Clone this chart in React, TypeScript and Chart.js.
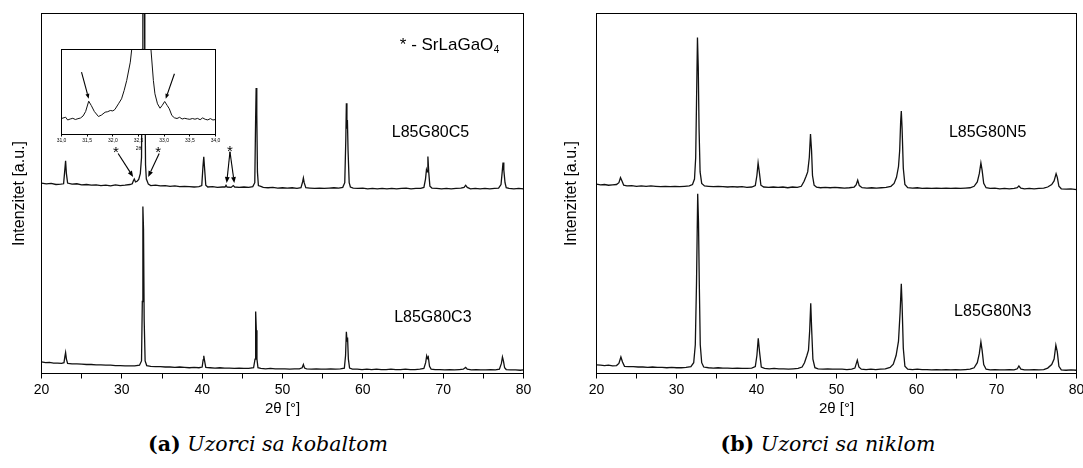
import React, { useEffect, useRef } from 'react';
import { Chart, registerables } from 'chart.js';

Chart.register(...registerables);

const FONT = '"Liberation Sans", Arial, Helvetica, sans-serif';
const LINE = '#111';

type Pt = [number, number];

// 2θ axis marks: labelled every 10°, minor marks every 5°
const angleTicks = [20, 25, 30, 35, 40, 45, 50, 55, 60, 65, 70, 75, 80];
const insetTicks = [31.0, 31.5, 32.0, 32.5, 33.0, 33.5, 34.0];

// L85G80C5 — [2θ (°), intensity (a.u.)], plotted with an upward offset
const sampleC5: Pt[] = [
  [20.0, 52.9], [20.6, 52.7], [21.2, 52.8], [21.8, 52.5], [22.4, 52.6], [22.75, 52.7], [22.9, 56.5], [23.0, 59.1],
  [23.1, 55.5], [23.25, 52.9], [23.8, 52.6], [24.4, 52.7], [25.0, 52.4], [25.6, 52.5], [26.2, 52.3], [26.8, 52.4],
  [27.4, 52.2], [28.0, 52.3], [28.6, 52.1], [29.2, 52.4], [29.8, 52.2], [30.4, 52.3], [31.0, 52.5], [31.3, 52.7],
  [31.45, 53.6], [31.55, 54.0], [31.7, 53.2], [31.9, 53.4], [32.1, 53.9], [32.3, 55.5], [32.45, 60], [32.55, 90],
  [32.62, 125], [32.78, 125], [32.86, 85], [32.95, 58], [33.05, 54.0], [33.15, 53.5], [33.3, 52.6], [33.6, 52.2],
  [34.2, 52.3], [34.8, 52.1], [35.4, 52.2], [36.0, 52.0], [36.6, 52.1], [37.2, 51.9], [37.8, 52.0], [38.4, 51.9],
  [39.0, 51.8], [39.6, 51.9], [39.95, 52.2], [40.1, 57.5], [40.2, 60.2], [40.3, 57.0], [40.45, 52.3], [40.7, 51.8],
  [41.3, 51.9], [41.9, 51.7], [42.5, 51.8], [42.85, 51.8], [42.97, 52.3], [43.1, 51.8], [43.6, 51.7], [43.87, 52.2],
  [44.05, 51.8], [44.6, 51.7], [45.2, 51.8], [45.8, 51.7], [46.3, 51.9], [46.55, 53], [46.65, 70], [46.72, 79.3],
  [46.8, 72], [46.88, 56], [47.0, 52.2], [47.3, 52.0], [47.6, 51.7], [48.2, 51.6], [48.8, 51.7], [49.4, 51.5],
  [50.0, 51.6], [50.6, 51.5], [51.2, 51.6], [51.8, 51.4], [52.3, 51.6], [52.5, 53.2], [52.6, 54.3], [52.7, 53.0],
  [52.9, 51.6], [53.4, 51.5], [54.0, 51.4], [54.6, 51.5], [55.2, 51.4], [55.8, 51.5], [56.4, 51.6], [57.0, 51.5],
  [57.5, 51.7], [57.75, 53], [57.88, 65], [57.95, 75.1], [58.02, 68], [58.08, 70.4], [58.16, 62], [58.3, 53],
  [58.45, 51.8], [58.8, 51.5], [59.4, 51.4], [60.0, 51.5], [60.6, 51.3], [61.2, 51.4], [61.8, 51.3], [62.4, 51.4],
  [63.0, 51.3], [63.6, 51.4], [64.2, 51.3], [64.8, 51.4], [65.4, 51.5], [66.0, 51.3], [66.6, 51.4], [67.2, 51.4],
  [67.6, 51.7], [67.8, 54], [67.92, 56.6], [68.0, 56.0], [68.1, 60.3], [68.2, 56], [68.35, 52], [68.6, 51.5],
  [69.2, 51.4], [69.8, 51.3], [70.4, 51.4], [71.0, 51.3], [71.6, 51.4], [72.2, 51.5], [72.6, 51.7], [72.8, 52.3],
  [73.0, 51.7], [73.4, 51.3], [74.0, 51.4], [74.6, 51.3], [75.2, 51.4], [75.8, 51.3], [76.4, 51.4], [76.9, 51.5],
  [77.2, 52.5], [77.35, 56], [77.45, 58.6], [77.55, 56.5], [77.7, 53], [77.85, 51.6], [78.2, 51.4], [78.8, 51.3],
  [79.4, 51.4], [80.0, 51.3],
];

// L85G80C3
const sampleC3: Pt[] = [
  [20.0, 3.2], [20.5, 3.0], [21.0, 3.1], [21.5, 2.9], [22.0, 2.9], [22.5, 2.8], [22.8, 3.0], [22.92, 4.8],
  [23.0, 5.8], [23.1, 4.0], [23.25, 2.8], [23.8, 2.7], [24.4, 2.7], [25.0, 2.6], [25.6, 2.5], [26.2, 2.5],
  [26.8, 2.4], [27.4, 2.4], [28.0, 2.3], [28.6, 2.3], [29.2, 2.2], [29.8, 2.2], [30.4, 2.1], [31.0, 2.1],
  [31.6, 2.1], [32.2, 2.3], [32.45, 3.5], [32.55, 20], [32.62, 46.4], [32.7, 40], [32.78, 15], [32.9, 3.5],
  [33.1, 2.2], [33.6, 2.0], [34.2, 1.9], [34.8, 1.9], [35.4, 1.8], [36.0, 1.8], [36.6, 1.7], [37.2, 1.8],
  [37.8, 1.7], [38.4, 1.6], [39.0, 1.7], [39.6, 1.6], [40.0, 1.8], [40.12, 3.8], [40.2, 4.9], [40.3, 3.5],
  [40.45, 1.7], [41.0, 1.6], [41.6, 1.5], [42.2, 1.6], [42.8, 1.5], [43.4, 1.5], [44.0, 1.4], [44.6, 1.5],
  [45.2, 1.4], [45.8, 1.4], [46.4, 1.6], [46.58, 4], [46.66, 17.2], [46.74, 12], [46.82, 4], [46.95, 1.6],
  [47.3, 1.4], [47.9, 1.3], [48.5, 1.4], [49.1, 1.3], [49.7, 1.3], [50.3, 1.3], [50.9, 1.2], [51.5, 1.3],
  [52.1, 1.3], [52.45, 1.6], [52.6, 2.5], [52.75, 1.5], [53.0, 1.3], [53.6, 1.2], [54.2, 1.3], [54.8, 1.2],
  [55.4, 1.2], [56.0, 1.3], [56.6, 1.2], [57.2, 1.3], [57.7, 1.5], [57.85, 5], [57.95, 11.6], [58.03, 9],
  [58.1, 10], [58.2, 4], [58.35, 1.5], [58.7, 1.2], [59.3, 1.2], [59.9, 1.1], [60.5, 1.2], [61.1, 1.1],
  [61.7, 1.2], [62.3, 1.1], [62.9, 1.1], [63.5, 1.2], [64.1, 1.1], [64.7, 1.1], [65.3, 1.2], [65.9, 1.1],
  [66.5, 1.1], [67.1, 1.2], [67.6, 1.4], [67.82, 3.0], [67.95, 4.9], [68.05, 4.2], [68.15, 4.6], [68.3, 2.0],
  [68.5, 1.2], [69.0, 1.1], [69.6, 1.1], [70.2, 1.0], [70.8, 1.1], [71.4, 1.0], [72.0, 1.1], [72.5, 1.2],
  [72.8, 1.7], [73.0, 1.2], [73.5, 1.0], [74.1, 1.1], [74.7, 1.0], [75.3, 1.0], [75.9, 1.1], [76.5, 1.0],
  [77.0, 1.2], [77.25, 2.8], [77.38, 4.6], [77.5, 3.5], [77.65, 1.6], [77.85, 1.1], [78.4, 1.0], [79.0, 1.0],
  [79.6, 0.9], [80.0, 1.0],
];

// L85G80N5, plotted with an upward offset
const sampleN5: Pt[] = [
  [20.0, 52.6], [20.5, 52.4], [21.0, 52.5], [21.5, 52.3], [22.0, 52.4], [22.5, 52.5], [22.8, 53.0], [23.0, 54.4],
  [23.2, 53.4], [23.4, 52.3], [23.8, 52.1], [24.4, 52.2], [25.0, 52.0], [25.6, 52.1], [26.2, 52.0], [26.8, 52.1],
  [27.4, 52.0], [28.0, 51.9], [28.6, 52.0], [29.2, 51.9], [29.8, 52.0], [30.4, 51.9], [31.0, 52.0], [31.6, 52.1],
  [32.0, 52.5], [32.25, 54], [32.4, 60], [32.5, 75], [32.62, 93.3], [32.72, 85], [32.82, 68], [32.95, 56],
  [33.15, 52.8], [33.5, 52.1], [34.0, 52.0], [34.6, 51.9], [35.2, 52.0], [35.8, 51.9], [36.4, 51.8], [37.0, 51.9],
  [37.6, 51.8], [38.2, 51.9], [38.8, 51.7], [39.4, 51.8], [39.85, 52.2], [40.05, 55], [40.2, 58.5], [40.35, 56],
  [40.55, 52.3], [40.9, 51.8], [41.5, 51.7], [42.1, 51.8], [42.7, 51.7], [43.3, 51.8], [43.9, 51.6], [44.5, 51.8],
  [45.1, 51.7], [45.6, 52.0], [45.95, 53.4], [46.2, 54.8], [46.4, 56.0], [46.6, 60], [46.75, 66.5], [46.88, 62],
  [47.0, 55], [47.2, 52.3], [47.5, 51.8], [48.0, 51.6], [48.6, 51.7], [49.2, 51.6], [49.8, 51.7], [50.4, 51.6],
  [51.0, 51.5], [51.6, 51.6], [52.2, 51.8], [52.45, 52.4], [52.65, 53.7], [52.85, 52.2], [53.2, 51.6], [53.8, 51.5],
  [54.4, 51.6], [55.0, 51.5], [55.6, 51.6], [56.2, 51.7], [56.8, 52.0], [57.2, 52.8], [57.5, 54.5], [57.75, 57.5],
  [57.9, 62], [58.02, 70], [58.1, 72.9], [58.2, 68], [58.35, 57], [58.55, 52.5], [58.9, 51.6], [59.5, 51.5],
  [60.1, 51.6], [60.7, 51.4], [61.3, 51.5], [61.9, 51.4], [62.5, 51.5], [63.1, 51.4], [63.7, 51.5], [64.3, 51.4],
  [64.9, 51.5], [65.5, 51.4], [66.1, 51.5], [66.7, 51.6], [67.2, 52.0], [67.6, 53.2], [67.85, 55.5], [68.05, 58.5],
  [68.2, 56.5], [68.4, 52.8], [68.7, 51.6], [69.2, 51.4], [69.8, 51.5], [70.4, 51.3], [71.0, 51.4], [71.6, 51.3],
  [72.2, 51.4], [72.6, 51.6], [72.8, 52.1], [73.05, 51.5], [73.5, 51.3], [74.1, 51.4], [74.7, 51.3], [75.3, 51.4],
  [75.9, 51.5], [76.4, 51.8], [76.9, 52.5], [77.2, 53.5], [77.45, 55.5], [77.6, 54.5], [77.8, 52.0], [78.1, 51.3],
  [78.7, 51.2], [79.3, 51.3], [80.0, 51.1],
];

// L85G80N3
const sampleN3: Pt[] = [
  [20.0, 2.4], [20.5, 2.3], [21.0, 2.2], [21.5, 2.3], [22.0, 2.1], [22.5, 2.2], [22.8, 2.8], [23.05, 4.6],
  [23.25, 3.2], [23.5, 2.0], [24.0, 1.9], [24.6, 1.9], [25.2, 1.8], [25.8, 1.8], [26.4, 1.7], [27.0, 1.8],
  [27.6, 1.7], [28.2, 1.7], [28.8, 1.6], [29.4, 1.7], [30.0, 1.6], [30.6, 1.6], [31.2, 1.7], [31.8, 1.9],
  [32.15, 3], [32.35, 8], [32.5, 25], [32.65, 49.9], [32.75, 42], [32.85, 25], [32.97, 8], [33.15, 3],
  [33.4, 1.8], [34.0, 1.6], [34.6, 1.5], [35.2, 1.6], [35.8, 1.5], [36.4, 1.5], [37.0, 1.4], [37.6, 1.5],
  [38.2, 1.4], [38.8, 1.4], [39.4, 1.5], [39.85, 1.9], [40.05, 5], [40.22, 9.8], [40.38, 6], [40.6, 1.8],
  [41.0, 1.4], [41.6, 1.3], [42.2, 1.4], [42.8, 1.3], [43.4, 1.3], [44.0, 1.2], [44.6, 1.3], [45.2, 1.4],
  [45.7, 1.8], [46.0, 3.0], [46.3, 5.0], [46.5, 6.5], [46.65, 12], [46.78, 19.5], [46.9, 12], [47.05, 4],
  [47.3, 1.6], [47.7, 1.3], [48.3, 1.2], [48.9, 1.3], [49.5, 1.2], [50.1, 1.2], [50.7, 1.2], [51.3, 1.1],
  [51.9, 1.2], [52.3, 1.5], [52.6, 3.7], [52.8, 1.8], [53.1, 1.2], [53.7, 1.1], [54.3, 1.2], [54.9, 1.1],
  [55.5, 1.2], [56.1, 1.3], [56.7, 1.7], [57.1, 2.6], [57.45, 5], [57.75, 9], [57.95, 17], [58.1, 24.9],
  [58.2, 19], [58.35, 7], [58.55, 2], [58.9, 1.2], [59.5, 1.1], [60.1, 1.2], [60.7, 1.1], [61.3, 1.1],
  [61.9, 1.0], [62.5, 1.1], [63.1, 1.0], [63.7, 1.1], [64.3, 1.0], [64.9, 1.1], [65.5, 1.0], [66.1, 1.1],
  [66.7, 1.2], [67.2, 1.6], [67.6, 3.0], [67.85, 5.5], [68.05, 8.8], [68.2, 6.5], [68.4, 2.5], [68.7, 1.2],
  [69.2, 1.0], [69.8, 1.1], [70.4, 1.0], [71.0, 1.0], [71.6, 1.1], [72.2, 1.0], [72.6, 1.3], [72.8, 2.1],
  [73.05, 1.2], [73.5, 1.0], [74.1, 1.0], [74.7, 1.1], [75.3, 1.0], [75.9, 1.1], [76.4, 1.5], [76.9, 2.5],
  [77.2, 4.0], [77.42, 7.9], [77.6, 6.0], [77.8, 2.0], [78.1, 1.0], [78.7, 0.9], [79.3, 1.0], [80.0, 0.9],
];

// L85G80C5 around the strongest reflection (31–34°)
const insetC5: Pt[] = [
  [31.0, 16.0], [31.05, 16.8], [31.08, 17.3], [31.12, 14.5], [31.17, 15.5], [31.22, 16.2], [31.27, 15.0], [31.32, 15.8],
  [31.37, 16.5], [31.42, 18.5], [31.47, 23], [31.53, 33.3], [31.58, 29], [31.64, 23], [31.72, 18], [31.78, 19.5],
  [31.85, 22.3], [31.9, 22.8], [31.95, 24], [32.0, 23.6], [32.04, 25], [32.11, 30.7], [32.17, 35.7], [32.22, 44],
  [32.27, 54], [32.34, 72.3], [32.4, 100], [32.72, 100], [32.79, 54], [32.82, 40.7], [32.87, 30.7], [32.92, 26.3],
  [32.96, 29], [33.01, 33], [33.06, 29], [33.1, 25.7], [33.15, 19], [33.2, 16.7], [33.25, 16.0], [33.3, 17.2],
  [33.35, 15.5], [33.4, 16.2], [33.45, 15.6], [33.5, 15.2], [33.55, 16.0], [33.6, 15.3], [33.65, 16.1], [33.7, 14.8],
  [33.75, 16.6], [33.8, 15.2], [33.85, 14.6], [33.9, 15.9], [33.95, 14.5], [34.0, 15.0],
];

type Note =
  | { kind: 'text'; x: number; y: number; text: string; size: number; sub?: string }
  | { kind: 'star'; x: number; y: number }
  | { kind: 'arrow'; from: Pt; to: Pt; head: number };

const notesCobalt: Note[] = [
  { kind: 'text', x: 64.6, y: 91.2, text: '* - SrLaGaO', sub: '4', size: 17 },
  { kind: 'text', x: 63.6, y: 66.9, text: 'L85G80C5', size: 16 },
  { kind: 'text', x: 63.9, y: 15.6, text: 'L85G80C3', size: 16 },
  { kind: 'star', x: 29.26, y: 62.5 },
  { kind: 'star', x: 34.53, y: 62.5 },
  { kind: 'star', x: 43.46, y: 62.9 },
  { kind: 'arrow', from: [29.54, 61.1], to: [31.41, 54.6], head: 6 },
  { kind: 'arrow', from: [34.65, 61.1], to: [33.28, 54.6], head: 6 },
  { kind: 'arrow', from: [43.46, 61.6], to: [43.05, 52.9], head: 6 },
  { kind: 'arrow', from: [43.46, 61.6], to: [44.0, 52.9], head: 6 },
];

const notesNickel: Note[] = [
  { kind: 'text', x: 64.05, y: 66.9, text: 'L85G80N5', size: 16 },
  { kind: 'text', x: 64.7, y: 17.3, text: 'L85G80N3', size: 16 },
];

const notesInset: Note[] = [
  { kind: 'arrow', from: [31.39, 62.3], to: [31.53, 35.7], head: 5 },
  { kind: 'arrow', from: [33.2, 60.7], to: [33.03, 35.7], head: 5 },
];

const toPoints = (pts: Pt[]) => pts.map(([x, y]) => ({ x, y }));

// Closed box around the plotting area
const framePlugin = {
  id: 'frame',
  afterDatasetsDraw(chart: any) {
    const { ctx, chartArea: a } = chart;
    ctx.save();
    ctx.strokeStyle = '#000';
    ctx.lineWidth = 1;
    ctx.strokeRect(a.left, a.top, a.right - a.left, a.bottom - a.top);
    ctx.restore();
  },
};

// Opaque background inside the plotting area
const paperPlugin = {
  id: 'paper',
  beforeDatasetsDraw(chart: any) {
    const { ctx, chartArea: a } = chart;
    ctx.save();
    ctx.fillStyle = '#fff';
    ctx.fillRect(a.left, a.top, a.right - a.left, a.bottom - a.top);
    ctx.restore();
  },
};

// Sample names, phase marks and arrows, placed in data coordinates
const makeNotes = (items: Note[]) => ({
  id: 'notes',
  afterDatasetsDraw(chart: any) {
    const { ctx, scales } = chart;
    const px = (v: number) => scales.x.getPixelForValue(v);
    const py = (v: number) => scales.y.getPixelForValue(v);
    ctx.save();
    ctx.fillStyle = '#000';
    ctx.strokeStyle = '#000';
    for (const n of items) {
      if (n.kind === 'text') {
        ctx.font = `${n.size}px ${FONT}`;
        ctx.textAlign = 'left';
        ctx.textBaseline = 'middle';
        const x = px(n.x);
        const y = py(n.y);
        ctx.fillText(n.text, x, y);
        if (n.sub) {
          const w = ctx.measureText(n.text).width;
          ctx.font = `${Math.round(n.size * 0.6)}px ${FONT}`;
          ctx.fillText(n.sub, x + w + 0.5, y + n.size * 0.3);
        }
      } else if (n.kind === 'star') {
        ctx.font = `15px ${FONT}`;
        ctx.textAlign = 'center';
        ctx.textBaseline = 'alphabetic';
        ctx.fillText('*', px(n.x), py(n.y) + 8.5);
      } else {
        const x1 = px(n.from[0]);
        const y1 = py(n.from[1]);
        const x2 = px(n.to[0]);
        const y2 = py(n.to[1]);
        const ang = Math.atan2(y2 - y1, x2 - x1);
        const h = n.head;
        const bx = x2 - h * Math.cos(ang);
        const by = y2 - h * Math.sin(ang);
        ctx.lineWidth = 1.1;
        ctx.beginPath();
        ctx.moveTo(x1, y1);
        ctx.lineTo(bx, by);
        ctx.stroke();
        const hw = h * 0.4;
        ctx.beginPath();
        ctx.moveTo(x2, y2);
        ctx.lineTo(bx + hw * Math.sin(ang), by - hw * Math.cos(ang));
        ctx.lineTo(bx - hw * Math.sin(ang), by + hw * Math.cos(ang));
        ctx.closePath();
        ctx.fill();
      }
    }
    ctx.restore();
  },
});

function panelConfig(upper: Pt[], lower: Pt[], yAxisWidth: number, yTitlePad: number, rightPad: number, notes: Note[]) {
  return {
    type: 'line' as const,
    data: {
      datasets: [upper, lower].map((d) => ({
        data: toPoints(d),
        borderColor: LINE,
        borderWidth: 1.3,
        pointRadius: 0,
        tension: 0,
        fill: false,
      })),
    },
    options: {
      animation: false as const,
      responsive: false,
      events: [],
      layout: { padding: { top: 13.5, right: rightPad, bottom: 0, left: 0 } },
      plugins: { legend: { display: false }, tooltip: { enabled: false } },
      scales: {
        x: {
          type: 'linear' as const,
          min: 20,
          max: 80,
          afterBuildTicks: (s: any) => {
            s.ticks = angleTicks.map((v) => ({ value: v }));
          },
          afterFit: (s: any) => {
            s.height = 51.5;
            s.paddingLeft = 0;
            s.paddingRight = 0;
          },
          ticks: {
            autoSkip: false,
            maxRotation: 0,
            color: '#000',
            padding: 3,
            font: { family: FONT, size: 14 },
            callback: (v: any) => (Number(v) % 10 === 0 ? String(v) : ''),
          },
          grid: { display: true, drawOnChartArea: false, drawTicks: true, tickLength: 5, color: '#000', lineWidth: 1 },
          border: { display: false },
          title: {
            display: true,
            text: '2θ [°]',
            color: '#000',
            font: { family: FONT, size: 15 },
            padding: { top: 0, bottom: 7 },
          },
        },
        y: {
          type: 'linear' as const,
          min: 0,
          max: 100,
          afterFit: (s: any) => {
            s.width = yAxisWidth;
            s.paddingTop = 0;
            s.paddingBottom = 0;
          },
          ticks: { display: false },
          grid: { display: false },
          border: { display: false },
          title: {
            display: true,
            text: 'Intenzitet [a.u.]',
            color: '#000',
            font: { family: FONT, size: 16 },
            padding: { top: yTitlePad, bottom: 0 },
          },
        },
      },
    },
    plugins: [framePlugin, makeNotes(notes)],
  };
}

function insetConfig() {
  return {
    type: 'line' as const,
    data: {
      datasets: [
        { data: toPoints(insetC5), borderColor: LINE, borderWidth: 1, pointRadius: 0, tension: 0, fill: false },
      ],
    },
    options: {
      animation: false as const,
      responsive: false,
      events: [],
      layout: { padding: { top: 5.5, right: 14.5, bottom: 0, left: 11.5 } },
      plugins: { legend: { display: false }, tooltip: { enabled: false } },
      scales: {
        x: {
          type: 'linear' as const,
          min: 31,
          max: 34,
          afterBuildTicks: (s: any) => {
            s.ticks = insetTicks.map((v) => ({ value: v }));
          },
          afterFit: (s: any) => {
            s.height = 21.5;
            s.paddingLeft = 0;
            s.paddingRight = 0;
          },
          ticks: {
            autoSkip: false,
            maxRotation: 0,
            color: '#000',
            padding: 1,
            font: { family: FONT, size: 5 },
            callback: (v: any) => Number(v).toFixed(1).replace('.', ','),
          },
          grid: { display: true, drawOnChartArea: false, drawTicks: true, tickLength: 2, color: '#000', lineWidth: 1 },
          border: { display: false },
          title: {
            display: true,
            text: '2θ',
            color: '#000',
            font: { family: FONT, size: 5 },
            padding: { top: 0, bottom: 4 },
          },
        },
        y: { display: false, min: 0, max: 85 },
      },
    },
    plugins: [paperPlugin, framePlugin, makeNotes(notesInset)],
  };
}

function ChartCanvas({ make, left, top, width, height }: { make: () => any; left: number; top: number; width: number; height: number }) {
  const ref = useRef<HTMLCanvasElement>(null);
  useEffect(() => {
    const chart = new Chart(ref.current as HTMLCanvasElement, make());
    return () => chart.destroy();
  }, []);
  return (
    <canvas
      ref={ref}
      width={width}
      height={height}
      style={{ position: 'absolute', left, top, width, height, display: 'block' }}
    />
  );
}

const captionStyle: React.CSSProperties = {
  position: 'absolute',
  top: 431,
  transform: 'translateX(-50%)',
  whiteSpace: 'nowrap',
  fontFamily: '"DejaVu Serif", serif',
  fontSize: 20.5,
  lineHeight: '26px',
  color: '#000',
};

export default function App() {
  return (
    <div style={{ position: 'absolute', left: 0, top: 0, width: 1083, height: 468, background: '#fff', overflow: 'hidden' }}>
      <ChartCanvas
        make={() => panelConfig(sampleC5, sampleC3, 41.5, 10, 16.5, notesCobalt)}
        left={0}
        top={0}
        width={540}
        height={425}
      />
      <ChartCanvas make={insetConfig} left={50} top={44} width={180} height={112} />
      <ChartCanvas
        make={() => panelConfig(sampleN5, sampleN3, 56.5, 22, 6.5, notesNickel)}
        left={540}
        top={0}
        width={543}
        height={425}
      />
      <div style={{ ...captionStyle, left: 268 }}>
        <b>(a)</b> <i>Uzorci sa kobaltom</i>
      </div>
      <div style={{ ...captionStyle, left: 828 }}>
        <b>(b)</b> <i>Uzorci sa niklom</i>
      </div>
    </div>
  );
}
